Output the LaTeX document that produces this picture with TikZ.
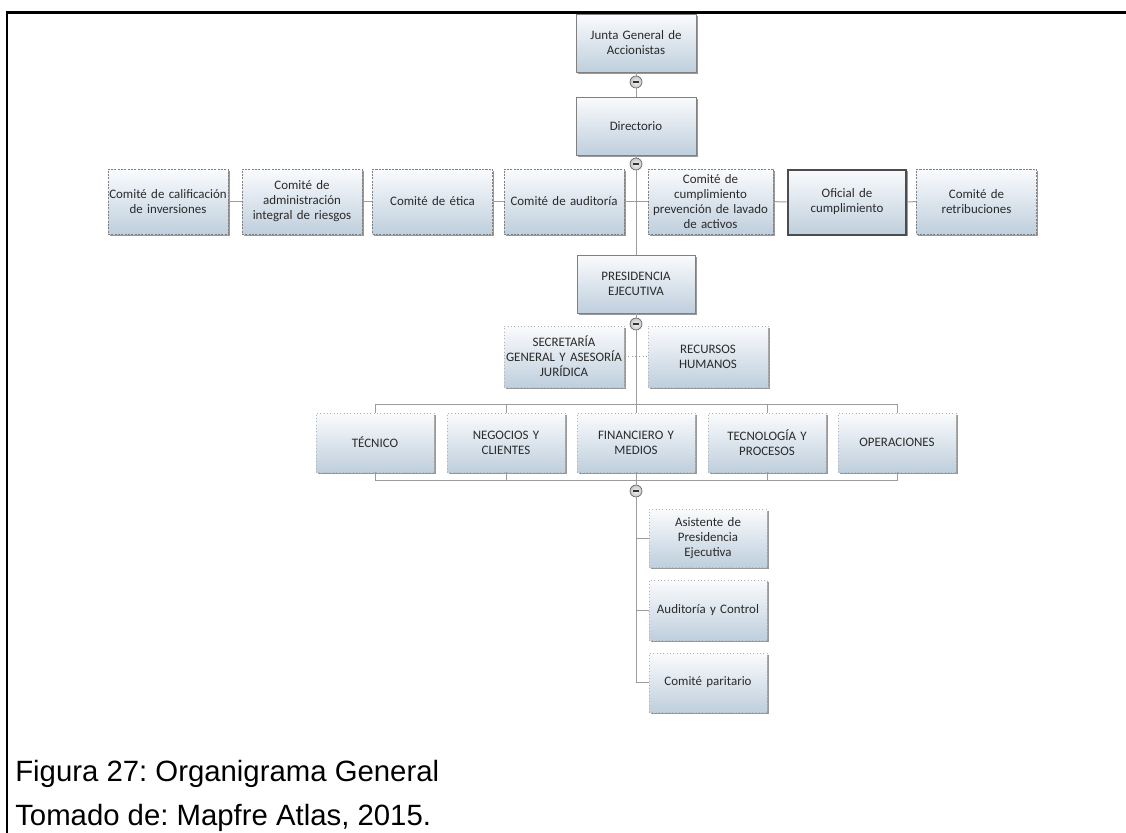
\documentclass[tikz,border=0pt]{standalone}
\usepackage{fontspec}
\newfontfamily\boxfont{Carlito}
\newfontfamily\capfont{Liberation Sans}
\usetikzlibrary{shadows}
\frenchspacing

\definecolor{boxtop}{HTML}{FAFBFD}
\definecolor{boxmid}{HTML}{E3EAF1}
\definecolor{boxbot}{HTML}{BFCFDD}
\definecolor{edgegray}{HTML}{808080}
\definecolor{linkgray}{HTML}{9C9C9C}
\definecolor{txtgray}{HTML}{2A2A2A}

\tikzset{
  orgbox/.style={rectangle, inner sep=1pt, align=center,
    font=\boxfont\fontsize{9.7}{11.25}\selectfont, text=txtgray,
    top color=boxtop, middle color=boxmid, bottom color=boxbot,
    drop shadow={shadow xshift=1.4pt, shadow yshift=-1.4pt, fill=black, opacity=0.4}},
  mainbox/.style={orgbox, draw=edgegray, line width=0.6pt},
  commbox/.style={orgbox, draw=edgegray, line width=0.7pt, dash pattern=on 1.6pt off 0.9pt},
  officerbox/.style={orgbox, draw=black!70, line width=1.5pt},
  unitbox/.style={orgbox, draw=gray!60, line width=0.5pt, dotted},
  wide/.style={text width=88pt},
  toggle/.style={circle, draw=gray!75!black, line width=0.5pt, inner color=gray!10,
    outer color=gray!45, minimum size=9pt, inner sep=0pt, text=black!80},
  link/.style={draw=linkgray, line width=0.75pt},
}
\newcommand{\minussign}{\rule[-0.6pt]{4.4pt}{1.2pt}}

\begin{document}
\begin{tikzpicture}[x=0.75pt,y=-0.75pt]
\useasboundingbox (0,0) rectangle (1126,832);

% page frame
\draw[line width=1.9pt, line cap=rect] (7,832) -- (7,12.5) -- (1126,12.5);

% governing bodies
\node[mainbox, text width=88pt, minimum height=43.5pt] (junta) at (636,43) {Junta General de\\Accionistas};
\node[toggle] (t1) at (636,82) {\minussign};
\node[mainbox, text width=88pt, minimum height=43.5pt] (dir) at (636,126) {Directorio};
\node[toggle] (t2) at (636,164) {\minussign};

% committees
\node[commbox, wide, minimum height=48.75pt] (c1) at (168,201.5) {\makebox[88pt]{Comité de calificación}\\de inversiones};
\node[commbox, wide, minimum height=48.75pt] (c2) at (302,201.5) {Comité de\\administración\\integral de riesgos};
\node[commbox, wide, minimum height=48.75pt] (c3) at (432.5,201.5) {Comité de ética};
\node[commbox, wide, minimum height=48.75pt] (c4) at (564,201.5) {Comité de auditoría};
\node[commbox, text width=91.75pt, minimum height=48.75pt] (c5) at (710.5,201.5) {Comité de\\cumplimiento\\prevención de lavado\\de activos};
\node[officerbox, text width=87pt, minimum height=48.75pt] (c6) at (847,202) {Oficial de\\cumplimiento};
\node[commbox, wide, minimum height=48.75pt] (c7) at (976.5,201.5) {Comité de\\retribuciones};

% executive presidency
\node[mainbox, text width=86.5pt, minimum height=43.5pt] (pres) at (636,284) {PRESIDENCIA\\EJECUTIVA};
\node[toggle] (t3) at (636,324) {\minussign};
\node[unitbox, text width=88pt, minimum height=45.75pt] (sec) at (564,356.5) {SECRETARÍA\\GENERAL Y ASESORÍA\\JURÍDICA};
\node[unitbox, text width=88pt, minimum height=45.75pt] (rrhh) at (708,356.5) {RECURSOS\\HUMANOS};

% departments
\node[unitbox, text width=86.5pt, minimum height=44.25pt] (tec) at (375,442.5) {TÉCNICO};
\node[unitbox, text width=86.5pt, minimum height=44.25pt] (neg) at (506,442.5) {NEGOCIOS Y\\CLIENTES};
\node[unitbox, text width=86.5pt, minimum height=44.25pt] (fin) at (636,442.5) {FINANCIERO Y\\MEDIOS};
\node[unitbox, text width=86.5pt, minimum height=44.25pt] (typ) at (767,442.5) {TECNOLOGÍA Y\\PROCESOS};
\node[unitbox, text width=86.5pt, minimum height=44.25pt] (ope) at (897,442.5) {OPERACIONES};
\node[toggle] (t4) at (636,491) {\minussign};

% staff units
\node[unitbox, text width=86.5pt, minimum height=43.5pt] (asis) at (708,538) {Asistente de\\Presidencia\\Ejecutiva};
\node[unitbox, text width=86.5pt, minimum height=45pt] (aud) at (708,610) {Auditoría y Control};
\node[unitbox, text width=86.5pt, minimum height=44.25pt] (pari) at (708,682.5) {Comité paritario};

% connectors
\begin{scope}[link]
  \draw (junta) -- (t1);
  \draw (t1) -- (dir);
  \draw (dir) -- (t2);
  \draw (t2) -- (pres);
  \draw (c1) -- (c2);
  \draw (c2) -- (c3);
  \draw (c3) -- (c4);
  \draw (c4) -- (c5);
  \draw (c5) -- (c6);
  \draw (c6) -- (c7);
  \draw (pres) -- (t3);
  \draw (t3) -- (fin);
  \draw[dotted] (sec) -- (rrhh);
  \draw (tec.north) -- ++(0,-8) -| (ope.north);
  \draw (neg.north) -- ++(0,-8);
  \draw (typ.north) -- ++(0,-8);
  \draw (tec.south) -- ++(0,8) -| (ope.south);
  \draw (neg.south) -- ++(0,8);
  \draw (typ.south) -- ++(0,8);
  \draw (fin) -- (t4);
  \draw (t4) |- (pari.west);
  \draw (asis.west) -- (asis.west -| t4);
  \draw (aud.west) -- (aud.west -| t4);
\end{scope}

% caption
\node[anchor=base west, inner sep=0pt, font=\capfont\fontsize{22}{26}\selectfont] (cap1) at (15,781) {Figura 27: Organigrama General};
\node[anchor=base west, inner sep=0pt, font=\capfont\fontsize{22}{26}\selectfont] (cap2) at (15,825) {Tomado de: Mapfre Atlas, 2015.};
\end{tikzpicture}
\end{document}
